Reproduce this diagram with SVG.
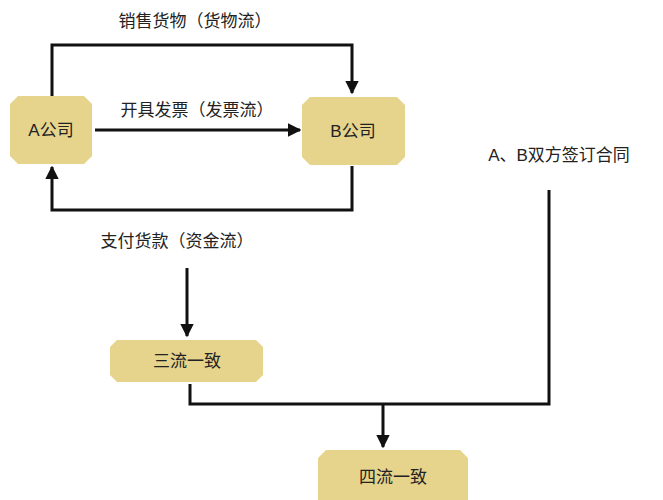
<svg xmlns="http://www.w3.org/2000/svg" width="663" height="500" viewBox="0 0 663 500">
<style>
.box{fill:#e6d38c}
.t{font-family:"Liberation Sans","Noto Sans CJK SC",sans-serif;font-size:17px;fill:#222}
.c{text-anchor:middle}
.ln{stroke:#111;stroke-width:3;fill:none}
</style>
<defs><marker id="ah" viewBox="0 0 10 10" refX="9" refY="5" markerWidth="4.5" markerHeight="4.5" orient="auto" markerUnits="strokeWidth"><path d="M0,0L10,5L0,10z" fill="#111"/></marker></defs>
<rect width="663" height="500" fill="#fff"/>
<g id="connectors">
<path class="ln" d="M52,96V45H352V93" marker-end="url(#ah)"/>
<path class="ln" d="M95,130H300" marker-end="url(#ah)"/>
<path class="ln" d="M352,166V210H52V167" marker-end="url(#ah)"/>
<path class="ln" d="M187,268V336" marker-end="url(#ah)"/>
<path class="ln" d="M190,384V404H549V190"/>
<path class="ln" d="M383,404V447" marker-end="url(#ah)"/>
<text class="t c" x="195" y="27">销售货物（货物流）</text>
<text class="t c" x="197" y="116">开具发票（发票流）</text>
<text class="t c" x="177" y="247">支付货款（资金流）</text>
</g>
<g id="A"><polygon class="box" points="18,96 84,96 92,104 92,156 84,164 18,164 10,156 10,104"/><text class="t c" x="51" y="136">A公司</text></g>
<g id="B"><polygon class="box" points="310,97 397,97 405,105 405,157 397,165 310,165 302,157 302,105"/><text class="t c" x="353" y="137">B公司</text></g>
<g id="sign"><text class="t c" x="559" y="161">A、B双方签订合同</text></g>
<g id="san"><polygon class="box" points="117,340 256,340 263,347 263,375 256,382 117,382 110,375 110,347"/><text class="t c" x="187" y="367">三流一致</text></g>
<g id="si"><polygon class="box" points="326,450 460,450 468,458 468,500 318,500 318,458"/><text class="t c" x="393" y="483">四流一致</text></g>
</svg>
